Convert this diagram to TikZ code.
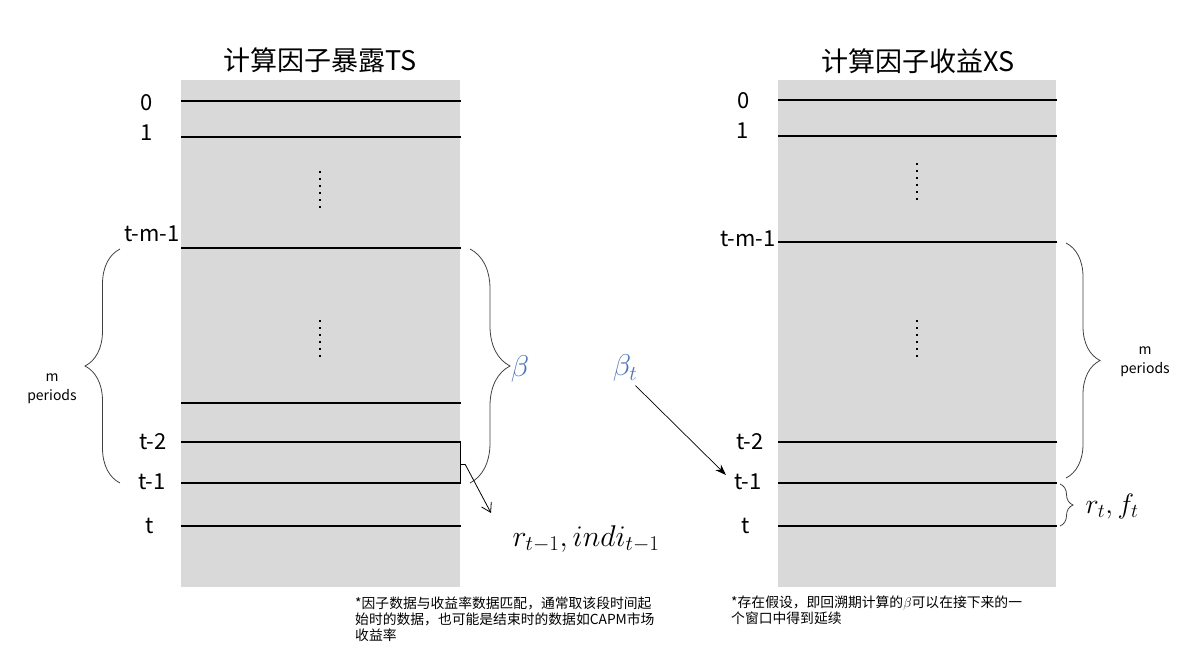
\RequirePackage{fix-cm}
\documentclass[tikz,border=0pt]{standalone}
\usepackage{amsmath}
\usepackage[no-math]{fontspec}
\setmainfont{Noto Sans CJK SC}
\usetikzlibrary{decorations.pathreplacing, arrows.meta}
\definecolor{panelgray}{HTML}{D9D9D9}
\definecolor{betablue}{HTML}{4472C4}
\tikzset{
  period/.style={line width=1.4pt},
  lbl/.style={font=\fontsize{22}{26}\selectfont, inner sep=1pt},
  dots/.style={line width=2pt, dash pattern=on 2pt off 5pt},
  brc/.style={decorate, decoration={brace, amplitude=#1}, draw=black!75, line width=0.8pt},
  note/.style={font=\fontsize{13.8}{16}\selectfont, align=left, anchor=north west, inner sep=0pt},
  mper/.style={font=\fontsize{14}{19}\selectfont, align=center}
}

\begin{document}
\begin{tikzpicture}[x=1pt, y=-1pt]
       \useasboundingbox (0,0) rectangle (1190,647);
       \fill[panelgray] (181,80) rectangle (460,587);
       \fill[panelgray] (778,80) rectangle (1056,587);
       \node[font=\fontsize{27}{32}\selectfont] (tsTitle) at (320,60) {计算因子暴露TS};
       \node[font=\fontsize{27}{32}\selectfont] (xsTitle) at (918,61) {计算因子收益XS};
       \foreach \y in {101,137,248,403,442,483,526}
         \draw[period] (181,\y) -- (461,\y);
       \foreach \y in {100,136,242,442,483,526}
         \draw[period] (778,\y) -- (1057,\y);
       \draw[dots] (320,171) -- (320,208);
       \draw[dots] (320,320) -- (320,357);
       \draw[dots] (917,163) -- (917,200);
       \draw[dots] (917,320) -- (917,357);
       \node[lbl] (zeroL) at (147,103) {0};
       \node[lbl] (oneL) at (147,133) {1};
       \node[lbl, anchor=east] (tmL) at (181,234) {t-m-1};
       \node[lbl] (t2L) at (153,442) {t-2};
       \node[lbl] (t1L) at (152,482) {t-1};
       \node[lbl] (tL) at (150,526) {t};
       \node[lbl] (zeroR) at (744,101) {0};
       \node[lbl] (oneR) at (743,131) {1};
       \node[lbl, anchor=east] (tmR) at (777,239) {t-m-1};
       \node[lbl] (t2R) at (750,442) {t-2};
       \node[lbl] (t1R) at (748,482) {t-1};
       \node[lbl] (tR) at (746,526) {t};
       \draw[brc=35] (120,483) -- (120,249);
       \node[mper] (mpL) at (52,389) {m\\periods};
       \draw[brc=40] (470,249) -- (470,483);
       \node[text=betablue, font=\fontsize{30}{34}\selectfont] (betaL) at (520,369) {$\beta$};
       \draw[brc=34] (1066,243) -- (1066,478);
       \node[mper] (mpR) at (1145,362) {m\\periods};
       \draw[brc=13] (1060,484) -- (1060,526);
       \node[font=\fontsize{28}{32}\selectfont] (rfR) at (1112,506) {$r_t,f_t$};
       \draw[line width=1pt] (460,442) -- (460,484);
       \draw[line width=0.8pt] (460,464) -- (465,464) coordinate (tick);
       \node[font=\fontsize{30}{36}\selectfont] (rL) at (586,539) {$r_{t-1},indi_{t-1}$};
       \coordinate (rtip) at (491,513);
       \draw[line width=0.8pt, -{Straight Barb[length=9pt, width=11pt]}] (tick) -- (rtip);
       \node[text=betablue, font=\fontsize{30}{34}\selectfont] (betaT) at (625,368) {$\beta_t$};
       \draw[line width=0.7pt, -{Stealth[length=11pt, width=8pt]}, shorten <=1pt, shorten >=10pt] (betaT.-60) -- (t1R.west);
       \node[note] (noteL) at (355,597) {*因子数据与收益率数据匹配，通常取该段时间起\\始时的数据，也可能是结束时的数据如CAPM市场\\收益率};
       \node[note] (noteR) at (731,596) {*存在假设，即回溯期计算的$\beta$可以在接下来的一\\个窗口中得到延续};
     \end{tikzpicture}
\end{document}
